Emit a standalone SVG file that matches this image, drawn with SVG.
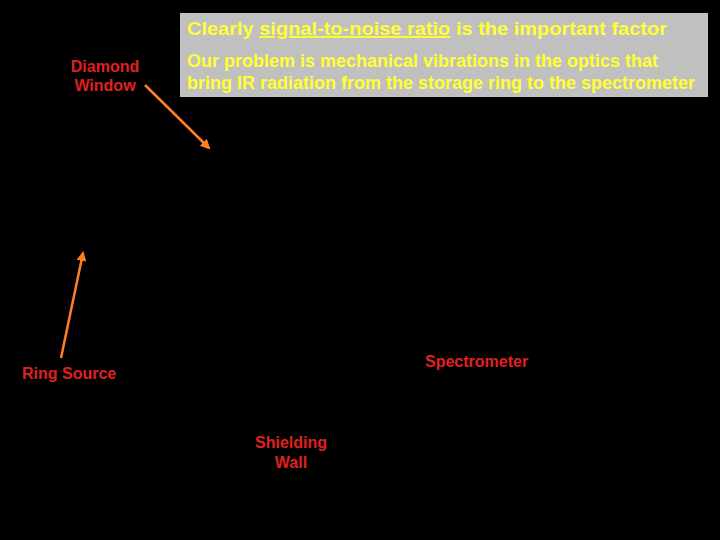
<svg xmlns="http://www.w3.org/2000/svg" width="720" height="540" viewBox="0 0 720 540">
<defs>
<style>
.lbl{font-family:"Liberation Sans",Arial,sans-serif;font-size:16px;font-weight:bold;fill:#e02020;}
.y{font-family:"Liberation Sans",Arial,sans-serif;fill:#ffff33;font-weight:bold;}
.arr{stroke:#ff7f27;stroke-width:2.5;fill:none;marker-end:url(#ah);}
</style>
<marker id="ah" viewBox="0 0 10 10" refX="8" refY="5" markerWidth="4" markerHeight="4" orient="auto" markerUnits="strokeWidth">
<path d="M0,0 L10,5 L0,10 z" fill="#ff7f27"/>
</marker>
</defs>
<rect width="720" height="540" fill="#000"/>
<g id="infobox">
<rect x="180" y="13" width="528" height="84" fill="#c0c0c0"/>
<text class="y" x="187" y="35" font-size="18.5" textLength="480" lengthAdjust="spacingAndGlyphs">Clearly <tspan text-decoration="underline">signal-to-noise ratio</tspan> is the important factor</text>
<text class="y" x="187" y="67" font-size="17.5" textLength="471" lengthAdjust="spacingAndGlyphs">Our problem is mechanical vibrations in the optics that</text>
<text class="y" x="187" y="89" font-size="17.5" textLength="508" lengthAdjust="spacingAndGlyphs">bring IR radiation from the storage ring to the spectrometer</text>
</g>
<g id="diamond-window">
<text class="lbl" x="105" y="72" text-anchor="middle">Diamond</text>
<text class="lbl" x="105" y="91" text-anchor="middle">Window</text>
</g>
<g id="ring-source">
<text class="lbl" x="22" y="379">Ring Source</text>
</g>
<g id="spectrometer">
<text class="lbl" x="425" y="367">Spectrometer</text>
</g>
<g id="shielding-wall">
<text class="lbl" x="291" y="448" text-anchor="middle">Shielding</text>
<text class="lbl" x="291" y="468" text-anchor="middle">Wall</text>
</g>
<g id="connectors">
<line class="arr" x1="145" y1="85" x2="209" y2="148"/>
<line class="arr" x1="61" y1="358" x2="83" y2="253"/>
</g>
</svg>
